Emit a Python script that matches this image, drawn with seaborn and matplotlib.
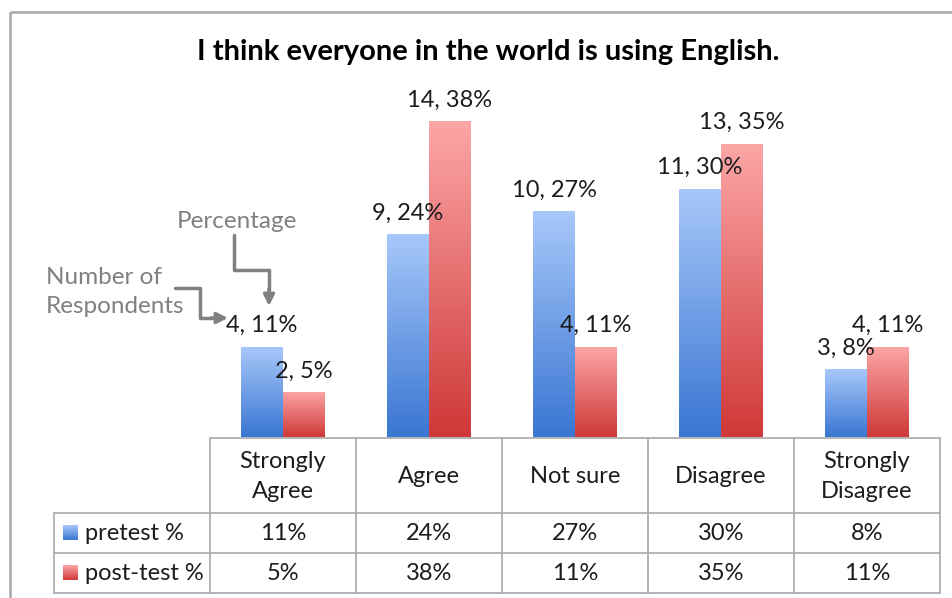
import numpy as np
import pandas as pd
import matplotlib
matplotlib.use("Agg")
import matplotlib.pyplot as plt
from matplotlib.colors import LinearSegmentedColormap
import seaborn as sns

# ---- data -------------------------------------------------------------
title = "I think everyone in the world is using English."
categories = ["Strongly\nAgree", "Agree", "Not sure", "Disagree", "Strongly\nDisagree"]
series_names = ["pretest %", "post-test %"]
pretest_counts = [4, 9, 10, 11, 3]
posttest_counts = [2, 14, 4, 13, 4]
respondents = 37
callout_count = "Number of\nRespondents"
callout_pct = "Percentage"

# ---- style ------------------------------------------------------------
sns.set_theme(style="white")
plt.rcParams["font.family"] = ["Lato", "DejaVu Sans"]
TEXT = "#1c1c1c"
GRAY = "#808080"
GRID = "#a8a8a8"
FS = 17

W, H, DPI = 953, 598, 100
fig = plt.figure(figsize=(W / DPI, H / DPI), dpi=DPI)
fig.patch.set_facecolor("white")

# pixel-space overlay for frame, title, table and callouts
ov = fig.add_axes([0, 0, 1, 1])
ov.set_xlim(0, W)
ov.set_ylim(H, 0)
ov.axis("off")

# bar axes
base_y, left, right = 437, 210, 940
ymax, px_per_pct = 45, 8.35
top_y = base_y - ymax * px_per_pct
ax = fig.add_axes([left / W, (H - base_y) / H, (right - left) / W, (base_y - top_y) / H])
ax.patch.set_alpha(0)

df = pd.DataFrame({
    "category": categories * 2,
    "series": [series_names[0]] * len(categories) + [series_names[1]] * len(categories),
    "count": pretest_counts + posttest_counts,
})
df["pct"] = df["count"] / respondents * 100

sns.barplot(data=df, x="category", y="pct", hue="series", order=categories,
            hue_order=series_names, palette=["#5b8fe0", "#e05555"],
            width=0.575, legend=False, errorbar=None, ax=ax)

# vertical gradient fill for each bar
cmaps = [LinearSegmentedColormap.from_list("blue_grad", ["#3a76d2", "#a8c8fa"]),
         LinearSegmentedColormap.from_list("red_grad", ["#cf3838", "#fca6a6"])]
grad = np.linspace(0, 1, 256).reshape(-1, 1)
for cont, cmap in zip(ax.containers, cmaps):
    for bar in cont:
        x, w, h = bar.get_x(), bar.get_width(), bar.get_height()
        bar.set_facecolor("none")
        bar.set_edgecolor("none")
        im = ax.imshow(grad, cmap=cmap, extent=[x, x + w, 0, h], origin="lower",
                       aspect="auto", interpolation="bicubic", zorder=2)
        im.set_clip_path(bar)

# value labels: "count, percent"
for cont, name in zip(ax.containers, series_names):
    counts = df.loc[df["series"] == name, "count"].tolist()
    labels = [f"{c}, {round(c / respondents * 100)}%" for c in counts]
    ax.bar_label(cont, labels=labels, padding=7.5, fontsize=FS, color=TEXT)

ax.set_xlim(-0.5, len(categories) - 0.5)
ax.set_ylim(0, ymax)
ax.axis("off")

# ---- chart frame and title -------------------------------------------
ov.plot([10, 10], [12, H], color=GRID, lw=1.8, solid_capstyle="butt")
ov.plot([10, W], [12, 12], color=GRID, lw=1.8, solid_capstyle="butt")
ov.text(488, 52, title, ha="center", va="center", fontsize=21,
        fontweight="bold", color="black")

# ---- data table --------------------------------------------------------
fig.canvas.draw()
col_x = [ax.transData.transform((i - 0.5, 0))[0] for i in range(len(categories) + 1)]
col_c = [ax.transData.transform((i, 0))[0] for i in range(len(categories))]
legend_left = 54
row_y = [438, 513, 553, 593]
lw = 1.2
ov.plot([col_x[0], col_x[-1]], [row_y[0], row_y[0]], color=GRID, lw=lw)
for yy in row_y[1:]:
    ov.plot([legend_left, col_x[-1]], [yy, yy], color=GRID, lw=lw)
for xx in col_x:
    ov.plot([xx, xx], [row_y[0], row_y[-1]], color=GRID, lw=lw)
ov.plot([legend_left, legend_left], [row_y[1], row_y[-1]], color=GRID, lw=lw)

for xc, cat in zip(col_c, categories):
    ov.text(xc, (row_y[0] + row_y[1]) / 2 + 1, cat, ha="center", va="center",
            fontsize=FS, color=TEXT, linespacing=1.55)

rows = [pretest_counts, posttest_counts]
for r, (name, counts, cmap) in enumerate(zip(series_names, rows, cmaps)):
    yc = (row_y[r + 1] + row_y[r + 2]) / 2
    for xc, c in zip(col_c, counts):
        ov.text(xc, yc, f"{round(c / respondents * 100)}%", ha="center",
                va="center", fontsize=FS, color=TEXT)
    ov.imshow(grad, cmap=cmap, extent=[63, 78, yc + 7.5, yc - 7.5],
              origin="lower", aspect="auto", interpolation="bicubic")
    ov.text(85, yc, name, ha="left", va="center", fontsize=FS, color=TEXT)

ov.set_xlim(0, W)
ov.set_ylim(H, 0)

# ---- callouts explaining the label format ------------------------------
ov.text(237, 222, callout_pct, ha="center", va="center", fontsize=17.5, color=GRAY)
ov.text(46, 292, callout_count, ha="left", va="center", fontsize=17.5,
        color=GRAY, linespacing=1.5)
arrow = dict(arrowstyle="-|>", color=GRAY, lw=2.5, mutation_scale=16,
             shrinkA=0, shrinkB=0)
ov.plot([234, 234, 269, 269], [235, 270, 270, 290], color=GRAY, lw=2.5)
ov.annotate("", xy=(269, 306), xytext=(269, 289), arrowprops=arrow)
ov.plot([175, 200, 200, 212], [288, 288, 318, 318], color=GRAY, lw=2.5)
ov.annotate("", xy=(228, 318), xytext=(211, 318), arrowprops=arrow)

fig.savefig("out.png", dpi=DPI, facecolor="white")
